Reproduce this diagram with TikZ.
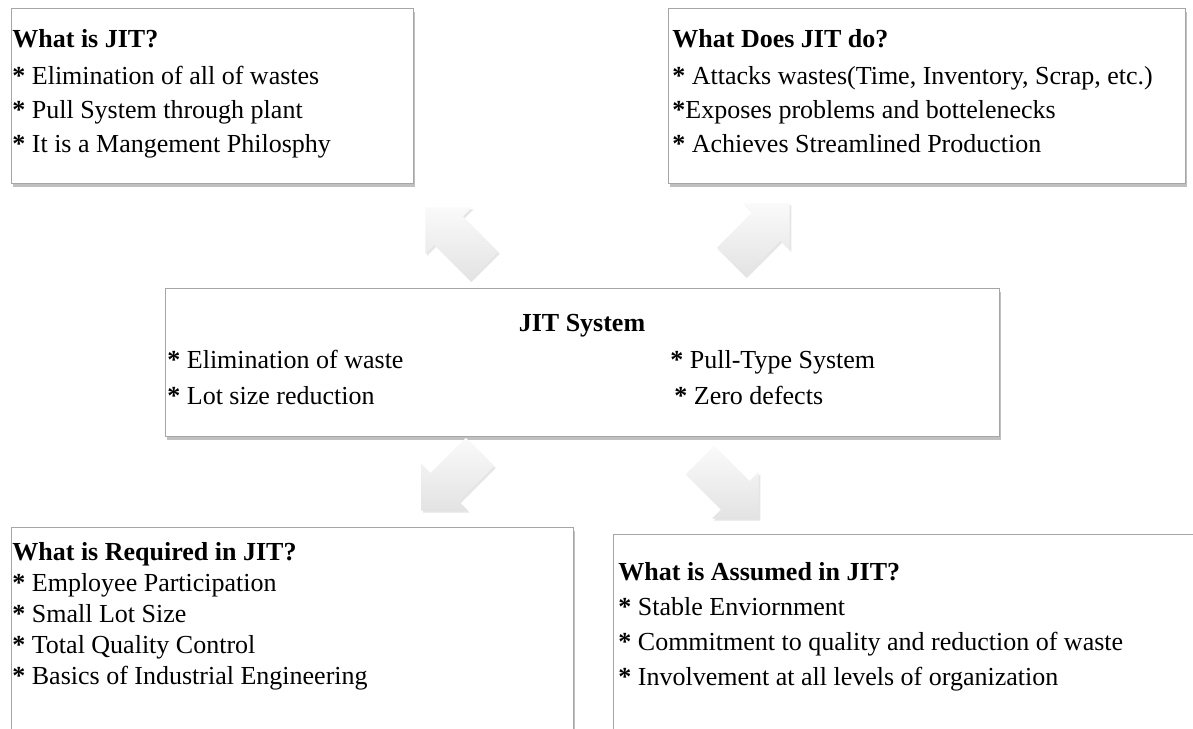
\documentclass[tikz,border=0pt]{standalone}
\usepackage{fontspec}
\setmainfont{Liberation Serif}
\usetikzlibrary{shadows}

\newcommand{\blockarrow}[2]{%
  \begin{scope}[shift={(#1)}, rotate=#2]
    \path[arrowbody] (0,-20) -- (50,-20) -- (50,-33) -- (83,0) -- (50,33) -- (50,20) -- (0,20) -- cycle;
  \end{scope}}

\begin{document}
\begin{tikzpicture}[x=0.5pt, y=-0.5pt,
    jitbox/.style = {draw=gray!70, fill=white, line width=0.6pt, inner sep=0pt, anchor=north west,
      drop shadow={shadow xshift=0.5pt, shadow yshift=-1.8pt, opacity=0.35, fill=black!70}},
    boxtext/.style = {anchor=base west, align=left, inner sep=0pt, font=\fontsize{13}{17}\selectfont},
    arrowbody/.style = {top color=gray!4, bottom color=gray!22,
      drop shadow={shadow xshift=0.8pt, shadow yshift=-1pt, opacity=0.2}}]
    \fill[white] (0,0) rectangle (1193,728);
    \useasboundingbox (0,0) rectangle (1193,728);

    % boxes
    \node[jitbox, minimum width=201pt, minimum height=87.5pt] (whatbox) at (11,8) {};
    \node[jitbox, minimum width=258.5pt, minimum height=87.5pt] (doesbox) at (668,8) {};
    \node[jitbox, minimum width=417pt, minimum height=74pt] (sysbox) at (165,288) {};
    \node[jitbox, minimum width=281pt, minimum height=110pt] (reqbox) at (11,527) {};
    \node[jitbox, minimum width=300pt, minimum height=100pt] (assbox) at (613,534) {};

    % arrows
    \coordinate (upleft) at (484,266);
    \coordinate (upright) at (731,262);
    \coordinate (downleft) at (480,452);
    \coordinate (downright) at (700,460);
    \blockarrow{upleft}{135}
    \blockarrow{upright}{45}
    \blockarrow{downleft}{225}
    \blockarrow{downright}{-45}

    % texts
    \node[boxtext] (whattext) at (12,152.6) {\textbf{What is JIT?}\\[1.5pt]
      \textbf{*} Elimination of all of wastes\\
      \textbf{*} Pull System through plant\\
      \textbf{*} It is a Mangement Philosphy};
    \node[boxtext] (doestext) at (672,152.6) {\textbf{What Does JIT do?}\\[1.5pt]
      \textbf{*} Attacks wastes(Time, Inventory, Scrap, etc.)\\
      \textbf{*}Exposes problems and bottelenecks\\
      \textbf{*} Achieves Streamlined Production};
    \node[boxtext, anchor=base] (systitle) at (582,331.6) {\textbf{JIT System}};
    \node[boxtext] (sysleft) at (167,404.6) {\textbf{*} Elimination of waste\\[1pt]
      \textbf{*} Lot size reduction};
    \node[boxtext] (sysright) at (670,404.6) {\textbf{*} Pull-Type System\\[1pt]
      \hspace*{2pt}\textbf{*} Zero defects};
    \node[boxtext, font=\fontsize{13}{15.5}\selectfont] (reqtext) at (12,684.6) {\textbf{What is Required in JIT?}\\
      \textbf{*} Employee Participation\\
      \textbf{*} Small Lot Size\\
      \textbf{*} Total Quality Control\\
      \textbf{*} Basics of Industrial Engineering};
    \node[boxtext, font=\fontsize{13}{17.5}\selectfont] (asstext) at (618,685.6) {\textbf{What is Assumed in JIT?}\\
      \textbf{*} Stable Enviornment\\
      \textbf{*} Commitment to quality and reduction of waste\\
      \textbf{*} Involvement at all levels of organization};
\end{tikzpicture}
\end{document}
